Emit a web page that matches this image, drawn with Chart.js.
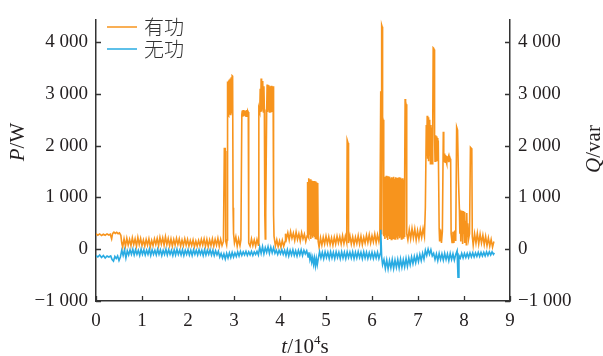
<!DOCTYPE html>
<html>
<head>
<meta charset="utf-8">
<script src="https://cdn.jsdelivr.net/npm/chart.js@4.4.1/dist/chart.umd.min.js"></script>
<style>
  body { margin: 0; background: #fff; }
  #wrap { width: 603px; height: 356px; }
</style>
</head>
<body>
<div id="wrap"><canvas id="chart" width="603" height="356"></canvas></div>
<script>
// x: t / 10^4 s
const xTicks = [0, 1, 2, 3, 4, 5, 6, 7, 8, 9];
const yTicks = [-1000, 0, 1000, 2000, 3000, 4000];
const seriesNames = ['有功', '无功'];

// 有功 P/W  [t, P]
const activePower = [
  [0.00,300],[0.04,270],[0.08,295],[0.12,265],[0.16,290],[0.20,270],[0.24,295],[0.28,275],[0.31,290],[0.34,200],
  [0.36,300],[0.39,330],[0.42,305],[0.45,325],[0.48,300],[0.51,315],[0.54,270],
  [0.56,120],[0.58,40],[0.61,200],[0.64,60],[0.67,210],[0.70,80],[0.73,190],[0.76,70],[0.79,220],[0.82,90],
  [0.85,200],[0.88,60],[0.91,230],[0.94,90],[0.97,210],[1.00,70],[1.03,180],[1.06,60],[1.09,190],[1.12,80],
  [1.15,200],[1.18,50],[1.21,170],[1.24,70],[1.27,200],[1.30,90],[1.33,210],[1.36,70],[1.39,230],[1.42,100],
  [1.45,220],[1.48,80],[1.51,240],[1.54,90],[1.57,210],[1.60,70],[1.63,200],[1.66,60],[1.69,190],[1.72,80],
  [1.75,210],[1.78,90],[1.81,200],[1.84,60],[1.87,180],[1.90,70],[1.93,200],[1.96,80],[1.99,190],[2.02,60],
  [2.05,170],[2.08,70],[2.11,180],[2.14,50],[2.17,160],[2.20,60],[2.23,170],[2.26,70],[2.29,190],[2.32,80],
  [2.35,200],[2.38,60],[2.41,190],[2.44,50],[2.47,180],[2.50,70],[2.53,200],[2.56,60],[2.59,190],[2.62,80],
  [2.65,210],[2.68,60],[2.71,190],[2.74,70],[2.77,150],
  [2.79,1960],[2.80,1880],[2.81,1900],[2.82,150],[2.84,80],[2.85,180],
  [2.86,3240],[2.87,2600],[2.88,3260],[2.89,2580],[2.90,3280],[2.91,2600],[2.92,3300],[2.93,2590],[2.94,3320],
  [2.95,2620],[2.96,3350],[2.97,3340],[2.98,800],[2.99,300],
  [3.01,120],[3.04,240],[3.07,60],[3.10,200],[3.13,70],[3.15,180],
  [3.17,2600],[3.18,2680],[3.19,2560],[3.20,2690],[3.21,2570],[3.22,2670],[3.23,2580],[3.24,2680],[3.25,2560],
  [3.26,2670],[3.27,2570],[3.28,2690],[3.29,2600],[3.30,2670],[3.31,2650],
  [3.32,120],[3.35,60],[3.38,200],[3.41,70],[3.44,180],[3.47,60],[3.50,190],[3.53,80],
  [3.54,2720],[3.56,2650],[3.57,3100],[3.58,2650],[3.59,3300],[3.60,2660],[3.61,3250],[3.62,2700],[3.63,3200],
  [3.64,2650],[3.65,3150],[3.66,2700],[3.67,650],[3.68,200],[3.69,700],
  [3.71,2650],[3.72,3180],[3.73,2650],[3.74,3160],[3.75,2680],[3.76,3170],[3.77,2650],[3.78,3150],[3.79,2700],
  [3.80,2640],[3.81,3160],[3.82,2650],[3.83,3150],[3.84,2680],[3.85,3150],[3.86,670],[3.87,250],
  [3.90,60],[3.93,180],[3.96,50],[3.99,160],[4.02,40],[4.05,170],[4.08,60],[4.11,150],
  [4.12,300],[4.14,200],[4.17,320],[4.20,180],[4.23,340],[4.26,210],[4.29,310],[4.32,170],[4.35,330],[4.38,190],
  [4.41,300],[4.44,160],[4.47,320],[4.50,200],[4.53,290],[4.56,150],[4.59,260],
  [4.60,1300],[4.61,250],[4.62,1370],[4.63,220],[4.64,1340],[4.65,280],[4.66,1350],[4.67,200],[4.68,1330],
  [4.69,260],[4.70,1320],[4.71,220],[4.72,1300],[4.73,250],[4.74,1320],[4.75,230],[4.76,1300],[4.77,210],
  [4.78,1310],[4.79,240],[4.80,1290],[4.81,200],[4.82,1280],[4.83,150],
  [4.85,40],[4.88,220],[4.91,80],[4.94,230],[4.97,100],[5.00,250],[5.03,110],[5.06,240],[5.09,90],[5.12,220],
  [5.15,80],[5.18,230],[5.21,100],[5.24,250],[5.27,120],[5.30,240],[5.33,100],[5.36,260],[5.39,110],[5.42,250],
  [5.45,130],[5.46,2110],[5.48,2050],[5.49,120],[5.52,260],[5.55,100],[5.58,240],[5.61,90],[5.64,230],[5.67,110],
  [5.70,260],[5.73,100],[5.76,250],[5.79,90],[5.82,230],[5.85,120],[5.88,270],[5.91,130],[5.94,280],[5.97,120],
  [6.00,260],[6.03,140],[6.06,290],[6.09,130],[6.12,280],[6.15,150],[6.17,260],
  [6.19,3050],[6.20,300],[6.21,4330],[6.22,4300],[6.23,2550],[6.24,2500],[6.25,1420],
  [6.26,250],[6.27,1400],[6.28,200],[6.29,1380],[6.30,270],[6.31,1420],[6.32,220],[6.33,1390],[6.34,180],
  [6.35,1410],[6.36,250],[6.37,1380],[6.38,200],[6.39,1400],[6.40,230],[6.41,1370],[6.42,190],[6.43,1390],
  [6.44,260],[6.45,1380],[6.46,210],[6.47,1400],[6.48,240],[6.49,1360],[6.50,200],[6.51,1390],[6.52,260],
  [6.53,1370],[6.54,220],[6.55,1380],[6.56,190],[6.57,1360],[6.58,250],[6.59,1390],[6.60,210],[6.61,1350],
  [6.62,240],[6.63,1380],[6.64,200],[6.65,1360],[6.66,260],[6.67,1370],[6.68,220],[6.69,1340],[6.70,250],
  [6.71,1360],[6.72,2900],[6.73,2850],[6.74,2800],[6.75,2780],[6.76,300],
  [6.78,180],[6.81,380],[6.84,200],[6.87,400],[6.90,220],[6.93,390],[6.96,180],[6.99,360],[7.02,200],[7.05,380],
  [7.08,230],[7.11,400],[7.14,250],
  [7.16,800],[7.18,2400],[7.19,1800],[7.20,2580],[7.21,1750],[7.22,2550],[7.23,1700],[7.24,2500],[7.25,1800],
  [7.26,2450],[7.27,1650],[7.28,2400],[7.29,1700],[7.30,2350],[7.31,1650],[7.32,2300],[7.33,3890],[7.34,3880],
  [7.35,3860],[7.36,2200],[7.37,1700],[7.38,2200],[7.39,1750],[7.40,2180],[7.41,1700],[7.42,2150],[7.43,1800],
  [7.44,2100],[7.45,2100],[7.46,400],[7.47,150],[7.49,380],[7.51,120],[7.53,350],
  [7.55,2270],[7.56,1850],[7.57,1700],[7.58,1850],[7.59,1680],[7.60,1820],[7.61,1700],[7.62,1800],[7.63,1650],
  [7.64,1790],[7.65,1700],[7.66,1760],[7.67,1680],[7.68,1760],[7.69,1700],[7.70,1750],[7.71,1720],
  [7.72,300],[7.74,130],[7.76,340],[7.78,120],[7.80,360],[7.82,160],
  [7.84,2360],[7.86,2300],[7.88,1330],[7.90,770],[7.91,300],[7.92,700],[7.93,150],[7.94,750],[7.95,250],
  [7.96,600],[7.97,100],[7.98,740],[7.99,300],[8.00,650],[8.01,120],[8.02,720],[8.03,200],[8.04,550],[8.05,90],
  [8.06,700],[8.07,250],[8.08,500],[8.10,200],[8.12,300],[8.14,1970],[8.16,1950],[8.17,1900],[8.18,250],
  [8.20,80],[8.23,300],[8.26,120],[8.29,310],[8.32,100],[8.35,290],[8.38,120],[8.41,270],[8.44,90],[8.47,250],
  [8.50,70],[8.53,220],[8.56,60],[8.59,190],[8.62,40],[8.65,150]
];

// 无功 Q/var  [t, Q]
const reactivePower = [
  [0.00,-120],[0.04,-150],[0.08,-110],[0.12,-160],[0.16,-120],[0.20,-170],[0.24,-130],[0.28,-150],[0.32,-130],
  [0.35,-200],[0.38,-230],[0.41,-140],[0.44,-180],[0.47,-130],[0.50,-220],[0.53,-150],
  [0.56,-20],[0.59,-120],[0.62,-10],[0.65,-170],[0.68,-30],[0.71,-110],[0.74,-10],[0.77,-100],[0.80,0],
  [0.83,-110],[0.86,-10],[0.89,-100],[0.92,-20],[0.95,-120],[0.98,0],[1.01,-100],[1.04,-10],[1.07,-110],
  [1.10,-20],[1.13,-100],[1.16,0],[1.19,-120],[1.22,-10],[1.25,-100],[1.28,-20],[1.31,-110],[1.34,0],
  [1.37,-100],[1.40,-10],[1.43,-120],[1.46,-20],[1.49,-100],[1.52,0],[1.55,-110],[1.58,-10],[1.61,-100],
  [1.64,-20],[1.67,-120],[1.70,-10],[1.73,-110],[1.76,0],[1.79,-100],[1.82,-20],[1.85,-110],[1.88,-10],
  [1.91,-120],[1.94,-20],[1.97,-100],[2.00,-10],[2.03,-110],[2.06,-20],[2.09,-120],[2.12,-10],[2.15,-100],
  [2.18,-20],[2.21,-110],[2.24,-10],[2.27,-100],[2.30,-20],[2.33,-120],[2.36,-10],[2.39,-110],[2.42,-20],
  [2.45,-100],[2.48,-10],[2.51,-110],[2.54,-20],[2.57,-120],[2.60,-30],[2.63,-110],[2.66,-40],
  [2.69,-150],[2.72,-80],[2.75,-170],[2.78,-90],[2.81,-190],[2.84,-80],[2.87,-170],[2.90,-70],[2.93,-160],
  [2.96,-60],[2.99,-150],[3.02,-70],[3.05,-140],[3.08,-50],[3.11,-130],[3.14,-40],[3.17,-120],[3.20,-50],
  [3.23,-110],[3.26,-40],[3.29,-120],[3.32,-50],[3.35,-110],[3.38,-40],[3.41,-120],[3.44,-50],[3.47,-100],
  [3.50,-40],[3.53,-110],
  [3.56,40],[3.59,-80],[3.62,50],[3.65,-90],[3.68,30],[3.71,-60],[3.74,50],[3.77,-80],[3.80,40],[3.83,-70],
  [3.86,30],[3.89,-80],[3.92,-20],[3.95,-100],[3.98,-20],[4.01,-90],[4.04,-10],[4.07,-100],[4.10,-20],
  [4.13,-120],[4.16,-10],[4.19,-130],[4.22,-20],[4.25,-110],[4.28,-10],[4.31,-120],[4.34,-30],[4.37,-130],
  [4.40,-20],[4.43,-110],[4.46,-10],[4.49,-120],[4.52,-20],[4.55,-90],[4.58,-30],
  [4.61,-150],[4.63,-60],[4.65,-200],[4.67,-120],[4.69,-250],[4.71,-160],[4.73,-290],[4.75,-170],[4.77,-320],
  [4.79,-180],[4.81,-300],[4.83,-190],
  [4.86,-50],[4.89,-170],[4.92,-60],[4.95,-180],[4.98,-50],[5.01,-160],[5.04,-60],[5.07,-180],[5.10,-50],
  [5.13,-170],[5.16,-60],[5.19,-180],[5.22,-50],[5.25,-160],[5.28,-60],[5.31,-180],[5.34,-50],[5.37,-170],
  [5.40,-60],[5.43,-180],[5.46,-50],[5.49,-160],[5.52,-60],[5.55,-170],[5.58,-50],[5.61,-180],[5.64,-60],
  [5.67,-170],[5.70,-50],[5.73,-160],[5.76,-60],[5.79,-180],[5.82,-50],[5.85,-170],[5.88,-60],[5.91,-180],
  [5.94,-70],[5.97,-170],[6.00,-60],[6.03,-180],[6.06,-70],[6.09,-170],[6.12,-60],[6.15,-180],[6.18,-80],
  [6.19,375],[6.21,-150],[6.23,-300],
  [6.26,-200],[6.29,-370],[6.32,-210],[6.35,-380],[6.38,-220],[6.41,-360],[6.44,-200],[6.47,-370],[6.50,-210],
  [6.53,-350],[6.56,-200],[6.59,-360],[6.62,-190],[6.65,-350],[6.68,-200],[6.71,-340],[6.74,-180],[6.77,-330],
  [6.80,-170],[6.83,-300],[6.86,-150],[6.89,-280],[6.92,-140],[6.95,-260],[6.98,-120],[7.01,-240],[7.04,-100],
  [7.07,-220],[7.10,-80],[7.13,-190],
  [7.16,-20],[7.19,-120],[7.22,0],[7.25,-100],[7.28,-10],[7.31,-130],
  [7.34,-80],[7.37,-200],[7.40,-90],[7.43,-220],[7.46,-80],[7.49,-200],[7.52,-90],[7.55,-210],[7.58,-80],
  [7.61,-200],[7.64,-90],[7.67,-220],[7.70,-80],[7.73,-200],[7.76,-90],[7.79,-210],[7.82,-100],[7.85,-30],
  [7.87,-540],[7.89,-120],
  [7.92,-170],[7.95,-80],[7.98,-170],[8.01,-80],[8.04,-160],[8.07,-80],[8.10,-160],[8.13,-70],[8.16,-150],
  [8.19,-70],[8.22,-150],[8.25,-70],[8.28,-140],[8.31,-60],[8.34,-140],[8.37,-60],[8.40,-130],[8.43,-60],
  [8.46,-130],[8.49,-50],[8.52,-120],[8.55,-50],[8.58,-110],[8.61,-50],[8.64,-100],[8.66,-70]
];

const ORANGE = '#f7941d';
const BLUE = '#29abe2';
const AXIS = '#333333';
const SERIF = '"Liberation Serif", "Times New Roman", serif';

// "4 000", "−1 000"
function fmt(v) {
    const s = String(Math.abs(v)).replace(/\B(?=(\d{3})+(?!\d))/g, ' ');
    return v < 0 ? '\u2212' + s : s;
}

// dibuja texto con partes en distintas fuentes, centrado en (x, y)
function drawParts(ctx, parts, x, y) {
    let total = 0;
    parts.forEach(p => { ctx.font = p.font; p.w = ctx.measureText(p.text).width; total += p.w; });
    let cx = x - total / 2;
    parts.forEach(p => {
        ctx.font = p.font;
        ctx.fillText(p.text, cx, y + (p.dy || 0));
        cx += p.w;
    });
}

const decor = {
    id: 'decor',
    afterDraw(chart) {
        const { ctx, chartArea: a, scales } = chart;
        ctx.save();
        // ticks hacia adentro
        ctx.strokeStyle = AXIS;
        ctx.lineWidth = 1.3;
        ctx.beginPath();
        scales.x.ticks.forEach(t => {
            const px = Math.round(scales.x.getPixelForValue(t.value)) + 0.5;
            ctx.moveTo(px, a.bottom); ctx.lineTo(px, a.bottom - 5);
        });
        scales.y.ticks.forEach(t => {
            const py = Math.round(scales.y.getPixelForValue(t.value)) + 0.5;
            ctx.moveTo(a.left, py); ctx.lineTo(a.left + 5, py);
        });
        scales.y2.ticks.forEach(t => {
            const py = Math.round(scales.y2.getPixelForValue(t.value)) + 0.5;
            ctx.moveTo(a.right, py); ctx.lineTo(a.right - 5, py);
        });
        ctx.stroke();

        // títulos de ejes
        ctx.fillStyle = '#231f20';
        ctx.textAlign = 'left';
        ctx.textBaseline = 'middle';
        ctx.save();
        ctx.translate(18, 142);
        ctx.rotate(-Math.PI / 2);
        drawParts(ctx, [
            { text: 'P', font: 'italic 21px ' + SERIF },
            { text: '/W', font: '21px ' + SERIF }
        ], 0, 0);
        ctx.restore();

        ctx.save();
        ctx.translate(594, 149);
        ctx.rotate(-Math.PI / 2);
        drawParts(ctx, [
            { text: 'Q', font: 'italic 21px ' + SERIF },
            { text: '/var', font: '21px ' + SERIF }
        ], 0, 0);
        ctx.restore();

        ctx.textBaseline = 'alphabetic';
        drawParts(ctx, [
            { text: 't', font: 'italic 21px ' + SERIF },
            { text: '/10', font: '21px ' + SERIF },
            { text: '4', font: '13px ' + SERIF, dy: -9 },
            { text: 's', font: '21px ' + SERIF }
        ], 305, 353);

        // leyenda
        const colors = [ORANGE, BLUE];
        ctx.lineWidth = 1.5;
        ctx.textBaseline = 'middle';
        ctx.font = '300 20px "Noto Sans CJK SC"';
        seriesNames.forEach((name, i) => {
            const y = 27 + i * 22;
            ctx.strokeStyle = colors[i];
            ctx.beginPath();
            ctx.moveTo(107, y); ctx.lineTo(137, y);
            ctx.stroke();
            ctx.fillStyle = '#333';
            ctx.fillText(name, 144, y);
        });
        ctx.restore();
    }
};

const tickFont = { family: SERIF, size: 19 };

new Chart(document.getElementById('chart').getContext('2d'), {
    type: 'line',
    data: {
        datasets: [{
            label: seriesNames[0],
            data: activePower.map(p => ({ x: p[0], y: p[1] })),
            borderColor: ORANGE,
            borderWidth: 1.6,
            pointRadius: 0,
            tension: 0,
            order: 1,
            yAxisID: 'y'
        }, {
            label: seriesNames[1],
            data: reactivePower.map(p => ({ x: p[0], y: p[1] })),
            borderColor: BLUE,
            borderWidth: 1.6,
            pointRadius: 0,
            tension: 0,
            order: 0,
            yAxisID: 'y2'
        }]
    },
    options: {
        responsive: false,
        animation: false,
        devicePixelRatio: 1,
        layout: { padding: { top: 11 } },
        plugins: { legend: { display: false }, tooltip: { enabled: false } },
        scales: {
            x: {
                type: 'linear',
                min: 0,
                max: 9,
                afterBuildTicks: s => { s.ticks = xTicks.map(v => ({ value: v })); },
                afterFit: s => { s.height = 55; },
                ticks: { font: tickFont, color: '#231f20', padding: 9, maxRotation: 0 },
                grid: { display: false, drawTicks: false },
                border: { color: AXIS, width: 1.5 }
            },
            y: {
                position: 'left',
                min: -1000,
                max: 4440,
                afterBuildTicks: s => { s.ticks = yTicks.map(v => ({ value: v })); },
                afterFit: s => { s.width = 96; },
                ticks: { font: tickFont, color: '#231f20', padding: 8, callback: v => fmt(v) },
                grid: { display: false, drawTicks: false },
                border: { color: AXIS, width: 1.5 }
            },
            y2: {
                position: 'right',
                min: -1000,
                max: 4440,
                afterBuildTicks: s => { s.ticks = yTicks.map(v => ({ value: v })); },
                afterFit: s => { s.width = 93; },
                ticks: { font: tickFont, color: '#231f20', padding: 8, callback: v => fmt(v) },
                grid: { display: false, drawTicks: false },
                border: { color: AXIS, width: 1.5 }
            }
        }
    },
    plugins: [decor]
});
</script>
</body>
</html>
